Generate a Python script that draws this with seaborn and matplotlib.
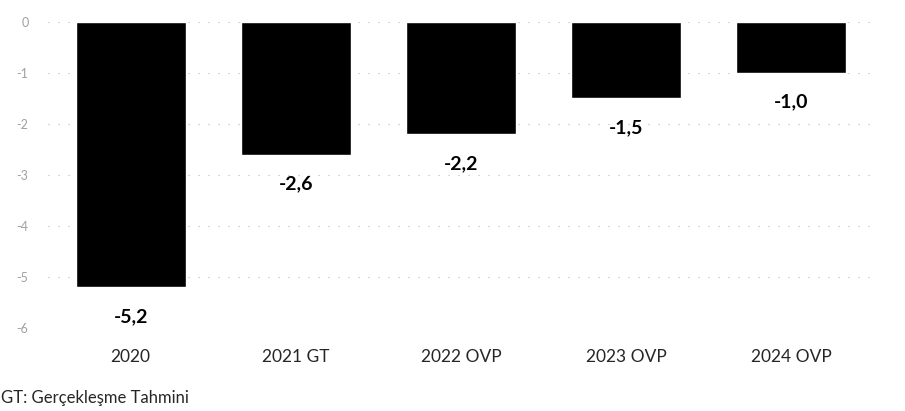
import matplotlib
matplotlib.use("Agg")
import matplotlib.pyplot as plt
import pandas as pd
import seaborn as sns

categories = ["2020", "2021 GT", "2022 OVP", "2023 OVP", "2024 OVP"]
values = [-5.2, -2.6, -2.2, -1.5, -1.0]
y_ticks = [0, -1, -2, -3, -4, -5, -6]
footnote = "GT: Gerçekleşme Tahmini"

sns.set_style("white")
plt.rcParams["font.family"] = ["Lato", "DejaVu Sans"]

df = pd.DataFrame({"year": categories, "value": values})

fig = plt.figure(figsize=(9.05, 4.11), dpi=100)
ax = fig.add_axes([48 / 905, 1 - 328 / 411, 826 / 905, 306 / 411])

# faint dotted gridlines like the scanned original
for t in y_ticks:
    ax.axhline(t, color="#b8b8b8", linestyle=(0, (1, 8)), linewidth=0.8, zorder=0)

sns.barplot(data=df, x="year", y="value", color="black", width=0.667,
            saturation=1, ax=ax, zorder=2)

for i, v in enumerate(values):
    ax.annotate(f"{v:.1f}".replace(".", ","), (i, v), xytext=(0, -21),
                textcoords="offset points", ha="center", va="center",
                fontsize=14, fontweight="bold", color="black")

ax.set_ylim(-6, 0)
ax.set_xlim(-0.5, len(categories) - 0.5)
ax.set_yticks(y_ticks)
ax.set_yticklabels([str(t) for t in y_ticks], color="#a0a0a0", fontsize=9)
ax.tick_params(axis="y", length=0, pad=14)
ax.tick_params(axis="x", length=0, pad=15, labelsize=12.5)
ax.set_xlabel("")
ax.set_ylabel("")
for s in ax.spines.values():
    s.set_visible(False)

fig.text(1 / 905, 1 - 398 / 411, footnote, fontsize=12, va="center", ha="left")

fig.savefig("out.png", dpi=100)
